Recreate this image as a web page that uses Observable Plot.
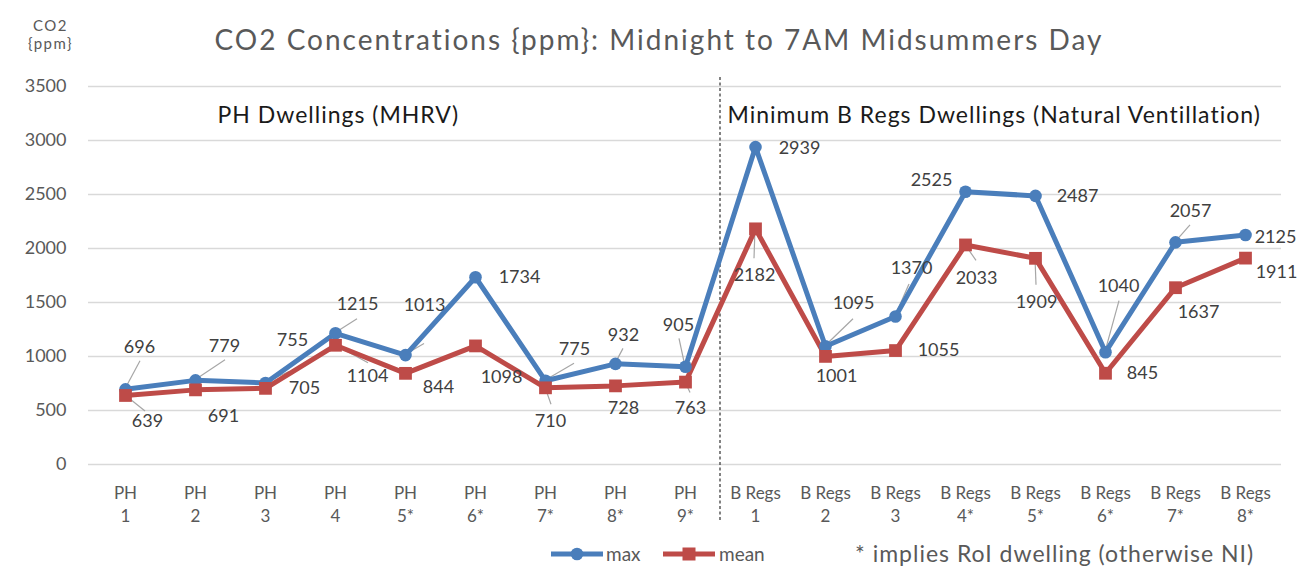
<!DOCTYPE html>
<html><head><meta charset="utf-8">
<script src="https://cdn.jsdelivr.net/npm/d3@7"></script>
<script src="https://cdn.jsdelivr.net/npm/@observablehq/plot@0.6"></script>
<style>
html,body{margin:0;padding:0;background:#fff;}
#chart{position:relative;width:1309px;height:582px;}
</style></head><body><div id="chart"></div>
<script>
// ---- data ----
const categories = ["PH 1","PH 2","PH 3","PH 4","PH 5*","PH 6*","PH 7*","PH 8*","PH 9*",
  "B Regs 1","B Regs 2","B Regs 3","B Regs 4*","B Regs 5*","B Regs 6*","B Regs 7*","B Regs 8*"];
const maxValues  = [696, 779, 755, 1215, 1013, 1734, 775, 932, 905, 2939, 1095, 1370, 2525, 2487, 1040, 2057, 2125];
const meanValues = [639, 691, 705, 1104, 844, 1098, 710, 728, 763, 2182, 1001, 1055, 2033, 1909, 845, 1637, 1911];
const yTicks = [0, 500, 1000, 1500, 2000, 2500, 3000, 3500];
const seriesNames = ["max", "mean"];
const titleText = "CO2 Concentrations {ppm}: Midnight to 7AM Midsummers Day";
const yLabelLines = ["CO2", "{ppm}"];
const groupLabels = ["PH Dwellings (MHRV)", "Minimum B Regs Dwellings (Natural Ventillation)"];
const noteText = "* implies RoI dwelling (otherwise NI)";

// ---- styling / label placement (offsets in px from each point) ----
const BLUE = "#4a7ebb", RED = "#be4b48", FONT = "Lato, 'Open Sans', sans-serif";
const maxLabelOff = [[14,-42],[29,-34],[27,-43],[22,-29],[19,-50],[44,0],[29,-32],[8,-29],[-7,-42],
  [44,1],[28,-43],[16,-48],[-34,-12],[42,0],[13,-66],[15,-31],[30,2]];
const meanLabelOff = [[22,26],[28,26],[39,0],[32,31],[33,14],[26,31],[5,33],[8,22],[5,26],
  [-1,46],[11,20],[43,0],[11,33],[1,44],[37,0],[23,25],[31,14]];
const maxLeader = [[15,-28],[30,-20],[24,-11],[22,-14],[19,-11],null,[29,-17],[8,-15],[-6,-28],
  null,[28,-27],[14,-32],null,null,[14,-51],[15,-17],null];
const meanLeader = [[20,16],null,null,[33,18],null,[26,14],[6,17],null,[5,11],
  [-1,30],null,null,[11,16],[1,27],null,null,null];

const rows = categories.map((c, i) => ({cat: c, max: maxValues[i], mean: meanValues[i]}));
const splitLabel = c => { const k = c.lastIndexOf(" "); return c.slice(0, k) + "\n" + c.slice(k + 1); };

function leaderMark(values, offs) {
  return (index, scales) => {
    const g = d3.create("svg:g");
    offs.forEach((o, i) => {
      if (!o) return;
      const px = scales.x(categories[i]), py = scales.y(values[i]);
      g.append("line").attr("x1", px).attr("y1", py).attr("x2", px + o[0]).attr("y2", py + o[1])
        .attr("stroke", "#a6a6a6").attr("stroke-width", 1.2);
    });
    return g.node();
  };
}
function dividerMark(index, scales, values, dims) {
  const i = categories.indexOf("B Regs 1");
  const xm = (scales.x(categories[i - 1]) + scales.x(categories[i])) / 2;
  return d3.create("svg:line").attr("x1", xm).attr("x2", xm)
    .attr("y1", dims.marginTop - 9).attr("y2", dims.height - dims.marginBottom + 58)
    .attr("stroke", "#404040").attr("stroke-width", 1.3).attr("stroke-dasharray", "3,2.5").node();
}
function labelMarks(values, offs) {
  return values.map((v, i) => Plot.text([i], {
    x: () => categories[i], y: () => v, text: () => String(v),
    dx: offs[i][0], dy: offs[i][1], fontSize: 18, fill: "#404040", lineAnchor: "middle", textAnchor: "middle"
  }));
}

const plot = Plot.plot({
  width: 1309, height: 582,
  marginLeft: 88, marginRight: 28, marginTop: 86, marginBottom: 118,
  style: {fontFamily: FONT, background: "#fff", overflow: "visible"},
  x: {type: "point", domain: categories, padding: 0.5},
  y: {domain: [0, 3500]},
  marks: [
    Plot.gridY(yTicks, {stroke: "#d9d9d9", strokeOpacity: 1, strokeWidth: 1.3}),
    Plot.axisY(yTicks, {tickSize: 0, tickPadding: 22, fontSize: 18, fill: "#595959", label: null, tickFormat: d => String(d)}),
    Plot.axisX({tickSize: 0, tickPadding: 18, tickFormat: splitLabel, lineHeight: 1.35, fontSize: 17, fill: "#595959", label: null}),
    dividerMark,
    leaderMark(maxValues, maxLeader),
    leaderMark(meanValues, meanLeader),
    Plot.line(rows, {x: "cat", y: "max", stroke: BLUE, strokeWidth: 5, strokeLinejoin: "round"}),
    Plot.line(rows, {x: "cat", y: "mean", stroke: RED, strokeWidth: 5, strokeLinejoin: "round"}),
    Plot.dot(rows, {x: "cat", y: "max", r: 6.3, fill: BLUE, symbol: "circle"}),
    Plot.dot(rows, {x: "cat", y: "mean", r: 7.2, fill: RED, symbol: "square"}),
    ...labelMarks(maxValues, maxLabelOff),
    ...labelMarks(meanValues, meanLabelOff),
    Plot.text([titleText], {text: d => d, frameAnchor: "top", dx: -26, dy: -45, fontSize: 28, fill: "#595959", lineAnchor: "middle"}),
    Plot.text([yLabelLines[0]], {text: d => d, frameAnchor: "top-left", dx: -38, dy: -60, fontSize: 15, fill: "#595959", lineAnchor: "middle", textAnchor: "middle"}),
    Plot.text([yLabelLines[1]], {text: d => d, frameAnchor: "top-left", dx: -38, dy: -42, fontSize: 15, fill: "#595959", lineAnchor: "middle", textAnchor: "middle"}),
    Plot.text([groupLabels[0]], {text: d => d, frameAnchor: "top-left", dx: 129, dy: 29, fontSize: 23, fill: "#1a1a1a", lineAnchor: "middle", textAnchor: "start"}),
    Plot.text([groupLabels[1]], {text: d => d, frameAnchor: "top-left", dx: 639, dy: 29, fontSize: 23, fill: "#1a1a1a", lineAnchor: "middle", textAnchor: "start"})
  ]
});

// letter spacing for the wide headline texts
const svg = d3.select(plot);
svg.selectAll("g[aria-label='text'] text").filter(function() { return this.textContent === titleText; }).style("letter-spacing", "2px");
svg.selectAll("g[aria-label='text'] text").filter(function() { return groupLabels.includes(this.textContent); }).style("letter-spacing", "1px");
svg.selectAll("g[aria-label='text'] text").filter(function() { return yLabelLines.includes(this.textContent); }).style("letter-spacing", "1.5px");

// legend (below the frame)
const lg = svg.append("g").style("font-family", FONT).style("text-anchor", "start");
const legendY = 554;
lg.append("line").attr("x1", 551).attr("x2", 603).attr("y1", legendY).attr("y2", legendY).attr("stroke", BLUE).attr("stroke-width", 5);
lg.append("circle").attr("cx", 577).attr("cy", legendY).attr("r", 6.3).attr("fill", BLUE);
lg.append("text").attr("x", 606).attr("y", legendY).attr("dy", "0.35em").style("font-size", "19px").attr("fill", "#595959").text(seriesNames[0]);
lg.append("line").attr("x1", 663).attr("x2", 715).attr("y1", legendY).attr("y2", legendY).attr("stroke", RED).attr("stroke-width", 5);
lg.append("rect").attr("x", 689 - 6.5).attr("y", legendY - 6.5).attr("width", 13).attr("height", 13).attr("fill", RED);
lg.append("text").attr("x", 719).attr("y", legendY).attr("dy", "0.35em").style("font-size", "19px").attr("fill", "#595959").text(seriesNames[1]);
lg.append("text").attr("x", 855).attr("y", legendY).attr("dy", "0.35em").style("font-size", "23px").style("letter-spacing", "1px").attr("fill", "#595959").text(noteText);

document.getElementById("chart").appendChild(plot);
</script>
</body></html>
